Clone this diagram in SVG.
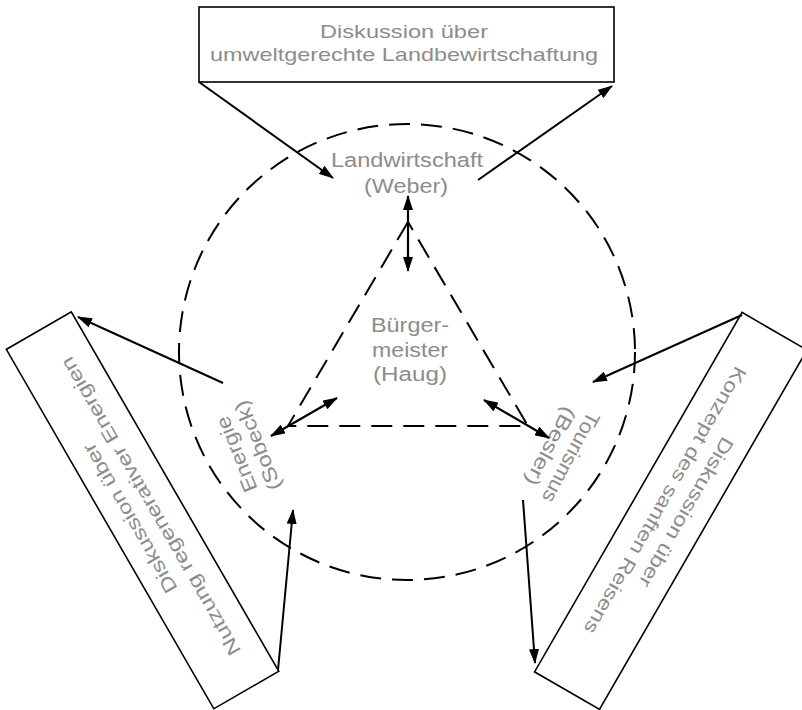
<svg xmlns="http://www.w3.org/2000/svg" width="802" height="710" viewBox="0 0 802 710">
  <style>
    .box { fill: #fff; stroke: #000; stroke-width: 1.6; }
    .lbl { font-family: "Liberation Sans", Arial, sans-serif; fill: #8c8c8c; text-anchor: middle; }
    .boxtxt { font-size: 19px; }
    .role { font-size: 20px; }
    .dash { fill: none; stroke: #000; stroke-width: 2; stroke-dasharray: 21 11; }
    .arr { fill: none; stroke: #000; stroke-width: 2; marker-end: url(#ah); }
    .dbl { fill: none; stroke: #000; stroke-width: 2.2; marker-start: url(#ah); marker-end: url(#ah); }
  </style>
  <defs>
    <marker id="ah" viewBox="0 0 15 10" refX="14" refY="5" markerWidth="15" markerHeight="10"
            markerUnits="userSpaceOnUse" orient="auto-start-reverse">
      <path d="M0,0 L15,5 L0,10 z" fill="#000"/>
    </marker>
  </defs>

  <rect width="802" height="710" fill="#fff"/>

  <!-- dashed circle of the three sectors and the inner coordination triangle -->
  <g id="frame">
    <circle class="dash" cx="407" cy="352" r="228"/>
    <polygon class="dash" points="408,222 288,426 528,426"/>
  </g>

  <!-- discussion boxes -->
  <g id="box-landwirtschaft">
    <rect class="box" x="199" y="7" width="415" height="75"/>
    <text class="lbl boxtxt" x="404" y="37.5" textLength="168" lengthAdjust="spacingAndGlyphs">Diskussion über</text>
    <text class="lbl boxtxt" x="404" y="60.5" textLength="388" lengthAdjust="spacingAndGlyphs">umweltgerechte Landbewirtschaftung</text>
  </g>

  <g id="box-energie" transform="rotate(-120 409 353.6)">
    <rect class="box" x="199" y="7" width="415" height="75"/>
    <text class="lbl boxtxt" x="406" y="36" textLength="170" lengthAdjust="spacingAndGlyphs">Diskussion über</text>
    <text class="lbl boxtxt" x="406" y="60" textLength="341" lengthAdjust="spacingAndGlyphs">Nutzung regenerativer Energien</text>
  </g>

  <g id="box-tourismus" transform="rotate(120 404 354)">
    <rect class="box" x="199" y="7" width="415" height="75"/>
    <text class="lbl boxtxt" x="400" y="37" textLength="170" lengthAdjust="spacingAndGlyphs">Diskussion über</text>
    <text class="lbl boxtxt" x="400" y="61" textLength="305" lengthAdjust="spacingAndGlyphs">Konzept des sanften Reisens</text>
  </g>

  <!-- actors -->
  <g id="landwirtschaft">
    <text class="lbl role" x="407" y="167" textLength="152" lengthAdjust="spacingAndGlyphs">Landwirtschaft</text>
    <text class="lbl role" x="406" y="193" textLength="84" lengthAdjust="spacingAndGlyphs">(Weber)</text>
  </g>

  <g id="energie" transform="translate(247 450) rotate(-112)">
    <text class="lbl role" x="0" y="-4.5" textLength="80" lengthAdjust="spacingAndGlyphs">Energie</text>
    <text class="lbl role" x="0" y="18.5" textLength="95" lengthAdjust="spacingAndGlyphs">(Sobeck)</text>
  </g>

  <g id="tourismus" transform="translate(561 452) rotate(118)">
    <text class="lbl role" x="0" y="-4.5" textLength="100" lengthAdjust="spacingAndGlyphs">Tourismus</text>
    <text class="lbl role" x="0" y="18.5" textLength="86" lengthAdjust="spacingAndGlyphs">(Besler)</text>
  </g>

  <g id="buergermeister">
    <text class="lbl role" x="410" y="332" textLength="78" lengthAdjust="spacingAndGlyphs">Bürger-</text>
    <text class="lbl role" x="410" y="357" textLength="76" lengthAdjust="spacingAndGlyphs">meister</text>
    <text class="lbl role" x="410" y="381" textLength="74" lengthAdjust="spacingAndGlyphs">(Haug)</text>
  </g>

  <!-- connectors -->
  <g id="connectors">
    <line class="arr" x1="199" y1="82" x2="333" y2="178"/>
    <line class="arr" x1="478" y1="180" x2="612" y2="86"/>
    <line class="arr" x1="223" y1="383" x2="78" y2="317"/>
    <line class="arr" x1="278" y1="670" x2="293" y2="510"/>
    <line class="arr" x1="742" y1="315" x2="593" y2="382"/>
    <line class="arr" x1="523" y1="500" x2="535" y2="663"/>
    <line class="dbl" x1="408" y1="196" x2="408" y2="271"/>
    <line class="dbl" x1="271" y1="436" x2="337" y2="398"/>
    <line class="dbl" x1="484" y1="400" x2="549" y2="438"/>
  </g>
</svg>
